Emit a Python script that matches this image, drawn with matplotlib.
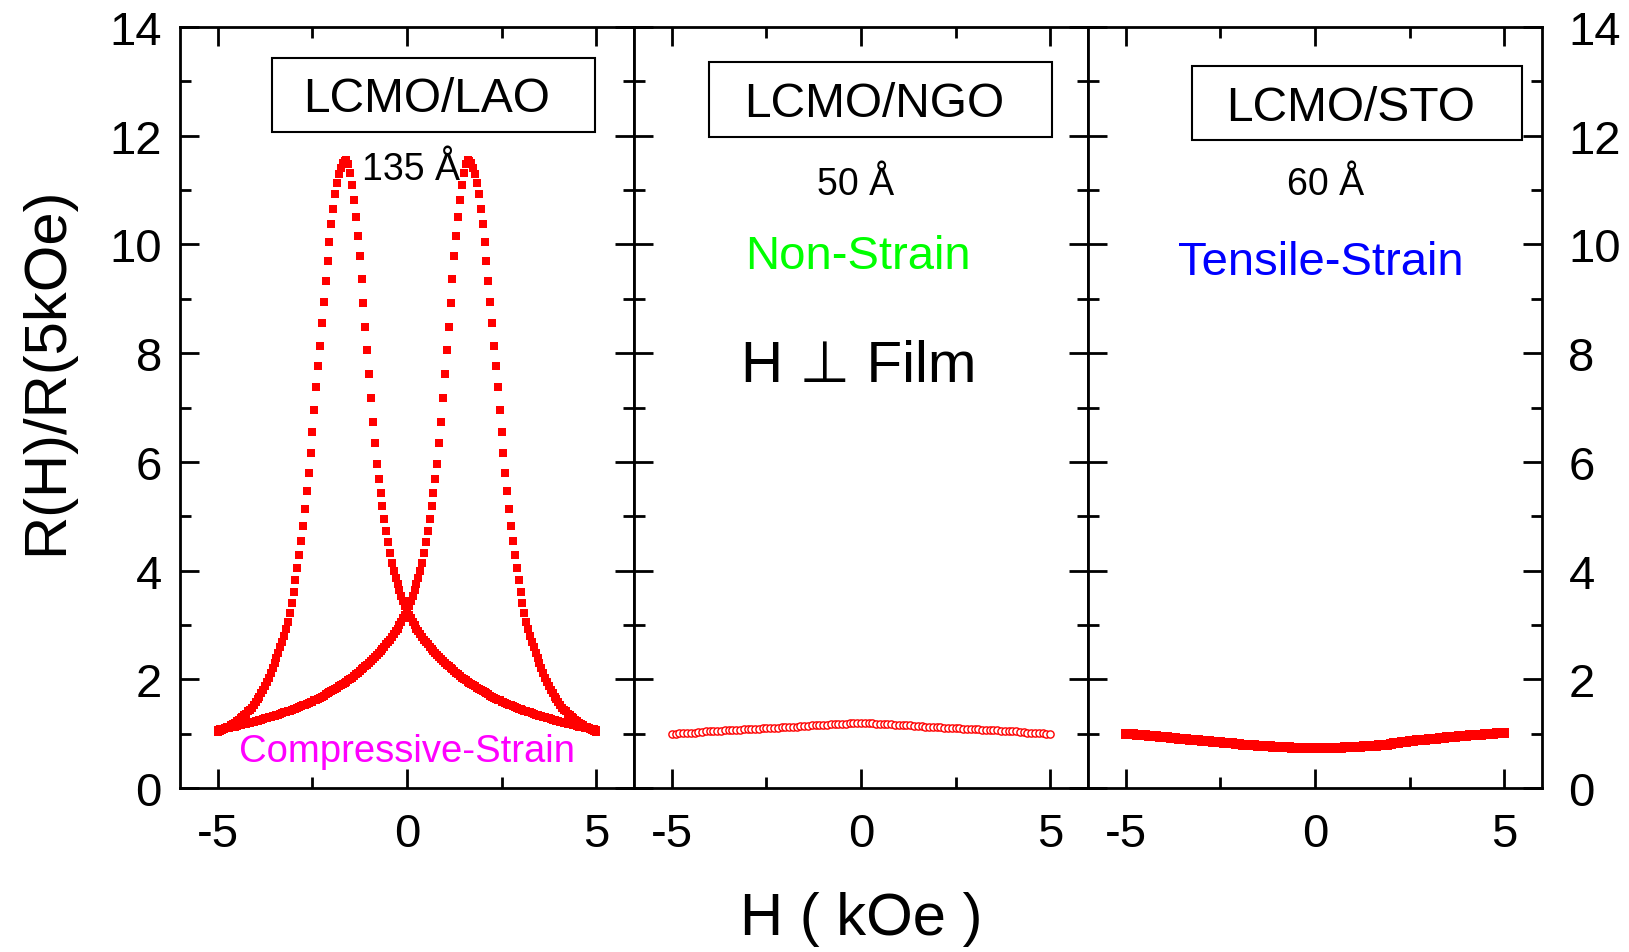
import matplotlib.pyplot as plt
from matplotlib.patches import Rectangle
import numpy as np

plt.rcParams['font.family'] = ['Liberation Sans', 'DejaVu Sans']
plt.rcParams['axes.unicode_minus'] = False

# field sweep grids (kOe)
field_lao = np.round(np.arange(-5.0, 5.0001, 0.05), 2)
field_ngo = np.round(np.arange(-5.0, 5.0001, 0.1), 2)
field_sto = np.round(np.arange(-5.0, 5.0001, 0.1), 2)

# LCMO/LAO, sweep from +5 to -5 (peak at negative field); the return sweep is its mirror image
r_lao_down = [
    1.03, 1.05, 1.06, 1.08, 1.10, 1.12, 1.13, 1.16, 1.18, 1.20,
    1.23, 1.25, 1.28, 1.31, 1.34, 1.37, 1.41, 1.44, 1.48, 1.53,
    1.58, 1.63, 1.68, 1.74, 1.80, 1.87, 1.95, 2.03, 2.12, 2.21,
    2.30, 2.39, 2.49, 2.59, 2.69, 2.80, 2.92, 3.06, 3.22, 3.40,
    3.60, 3.82, 4.05, 4.29, 4.54, 4.82, 5.13, 5.46, 5.80, 6.17,
    6.55, 6.96, 7.37, 7.76, 8.14, 8.55, 8.95, 9.33, 9.70, 10.05,
    10.37, 10.66, 10.92, 11.13, 11.29, 11.41, 11.49, 11.54, 11.55, 11.48,
    11.32, 11.10, 10.82, 10.50, 10.16, 9.78, 9.36, 8.92, 8.48, 8.05,
    7.62, 7.18, 6.74, 6.34, 5.96, 5.68, 5.43, 5.18, 4.94, 4.72,
    4.52, 4.32, 4.14, 3.99, 3.86, 3.75, 3.64, 3.54, 3.44, 3.35,
    3.27, 3.19, 3.12, 3.05, 2.99, 2.93, 2.88, 2.83, 2.78, 2.73,
    2.69, 2.64, 2.60, 2.56, 2.52, 2.48, 2.44, 2.41, 2.37, 2.34,
    2.30, 2.27, 2.24, 2.21, 2.18, 2.15, 2.12, 2.09, 2.06, 2.03,
    2.00, 1.98, 1.95, 1.93, 1.91, 1.89, 1.87, 1.84, 1.82, 1.80,
    1.78, 1.76, 1.74, 1.72, 1.70, 1.68, 1.66, 1.64, 1.62, 1.61,
    1.59, 1.58, 1.56, 1.55, 1.53, 1.52, 1.50, 1.49, 1.48, 1.46,
    1.45, 1.44, 1.42, 1.41, 1.40, 1.39, 1.38, 1.37, 1.35, 1.34,
    1.33, 1.32, 1.31, 1.30, 1.29, 1.28, 1.27, 1.26, 1.25, 1.24,
    1.23, 1.22, 1.21, 1.20, 1.19, 1.18, 1.17, 1.17, 1.16, 1.15,
    1.14, 1.13, 1.13, 1.12, 1.11, 1.10, 1.10, 1.09, 1.08, 1.08,
    1.07,
]

# LCMO/NGO
r_ngo = [
    1.00, 1.00, 1.01, 1.01, 1.02, 1.02, 1.02, 1.03, 1.03, 1.04,
    1.04, 1.04, 1.05, 1.05, 1.06, 1.06, 1.06, 1.07, 1.07, 1.08,
    1.08, 1.08, 1.09, 1.09, 1.10, 1.10, 1.10, 1.11, 1.11, 1.12,
    1.12, 1.12, 1.13, 1.13, 1.14, 1.14, 1.14, 1.15, 1.15, 1.16,
    1.16, 1.16, 1.17, 1.17, 1.18, 1.18, 1.18, 1.19, 1.19, 1.20,
    1.20, 1.20, 1.19, 1.19, 1.18, 1.18, 1.18, 1.17, 1.17, 1.16,
    1.16, 1.16, 1.15, 1.15, 1.14, 1.14, 1.14, 1.13, 1.13, 1.12,
    1.12, 1.12, 1.11, 1.11, 1.10, 1.10, 1.10, 1.09, 1.09, 1.08,
    1.08, 1.08, 1.07, 1.07, 1.06, 1.06, 1.06, 1.05, 1.05, 1.04,
    1.04, 1.04, 1.03, 1.03, 1.02, 1.02, 1.02, 1.01, 1.01, 1.00,
    1.00,
]

# LCMO/STO
r_sto = [
    1.00, 0.99, 0.99, 0.98, 0.97, 0.97, 0.96, 0.96, 0.95, 0.94,
    0.94, 0.93, 0.92, 0.92, 0.91, 0.90, 0.90, 0.89, 0.88, 0.88,
    0.87, 0.86, 0.86, 0.85, 0.85, 0.84, 0.83, 0.83, 0.82, 0.81,
    0.81, 0.80, 0.80, 0.79, 0.79, 0.78, 0.78, 0.77, 0.77, 0.76,
    0.76, 0.75, 0.75, 0.75, 0.74, 0.74, 0.74, 0.74, 0.73, 0.73,
    0.73, 0.73, 0.73, 0.73, 0.74, 0.74, 0.74, 0.74, 0.75, 0.75,
    0.75, 0.76, 0.76, 0.77, 0.77, 0.78, 0.78, 0.79, 0.80, 0.80,
    0.81, 0.82, 0.83, 0.84, 0.85, 0.86, 0.87, 0.88, 0.88, 0.89,
    0.90, 0.90, 0.91, 0.92, 0.92, 0.93, 0.93, 0.94, 0.95, 0.95,
    0.96, 0.97, 0.97, 0.98, 0.98, 0.99, 0.99, 1.00, 1.01, 1.01,
    1.02,
]

samples = ['LCMO/LAO', 'LCMO/NGO', 'LCMO/STO']
thickness = ['135 Å', '50 Å', '60 Å']
strain = ['Compressive-Strain', 'Non-Strain', 'Tensile-Strain']
strain_colors = ['#ff00ff', '#00ff00', '#0000ff']

fig = plt.figure(figsize=(16.29, 9.53), dpi=100)
axes = fig.subplots(1, 3, sharey=True,
                    gridspec_kw=dict(wspace=0, left=0.1105, right=0.9466,
                                     bottom=0.1721, top=0.9706))

# curves
ax1, ax2, ax3 = axes
ax1.plot(field_lao, r_lao_down, 's', color='red', ms=5.8, mew=0, zorder=2)
ax1.plot(-field_lao, r_lao_down, 's', color='red', ms=5.8, mew=0, zorder=2)
ax2.plot(field_ngo, r_ngo, 'o', mfc='white', mec='red', ms=5.2, mew=1.0)
ax3.plot(field_sto, r_sto, 's', color='red', ms=7, mew=0)

for ax in axes:
    ax.set_xlim(-6, 6)
    ax.set_ylim(0, 14)
    ax.set_xticks([-5, 0, 5])
    ax.set_xticks([-2.5, 2.5], minor=True)
    ax.set_yticks(range(0, 15, 2))
    ax.set_yticks(range(1, 14, 2), minor=True)
    ax.tick_params(which='both', direction='in', top=True, right=True,
                   width=2, labelsize=34)
    ax.tick_params(which='major', length=14)
    ax.tick_params(which='minor', length=8)
    ax.tick_params(axis='x', pad=17)
    for s in ax.spines.values():
        s.set_linewidth(2)

ax1.tick_params(axis='y', pad=13)
ax3.tick_params(axis='y', labelright=True, pad=19)

# boxed sample names
boxes = [(0.202, 0.862, 0.713, 0.097), (0.165, 0.855, 0.756, 0.099), (0.229, 0.852, 0.727, 0.097)]
name_pos = [(0.543, 0.890), (0.529, 0.883), (0.578, 0.878)]
for ax, b, p, name in zip(axes, boxes, name_pos, samples):
    ax.add_patch(Rectangle((b[0], b[1]), b[2], b[3], transform=ax.transAxes,
                           fill=False, ec='black', lw=1.5, zorder=3))
    ax.text(p[0], p[1], name, transform=ax.transAxes, ha='center',
            va='baseline', fontsize=34.5)

thick_pos = [(0.1, 11.2), (-0.15, 10.93), (0.27, 10.93)]
for ax, p, t in zip(axes, thick_pos, thickness):
    ax.text(p[0], p[1], t, ha='center', va='baseline', fontsize=27)

ax1.text(0.0, 0.5, strain[0], color=strain_colors[0], ha='center', va='baseline', fontsize=27.5)
ax2.text(-0.09, 9.56, strain[1], color=strain_colors[1], ha='center', va='baseline', fontsize=34)
ax3.text(0.15, 9.46, strain[2], color=strain_colors[2], ha='center', va='baseline', fontsize=34)
ax2.text(-0.07, 7.49, 'H \u22a5 Film', ha='center', va='baseline', fontsize=42)

fig.text(0.0289, 0.6107, 'R(H)/R(5kOe)', rotation=90, ha='center', va='center', fontsize=43)
fig.text(0.529, 0.035, 'H ( kOe )', ha='center', va='center', fontsize=43)

plt.savefig('out.png', dpi=100)
